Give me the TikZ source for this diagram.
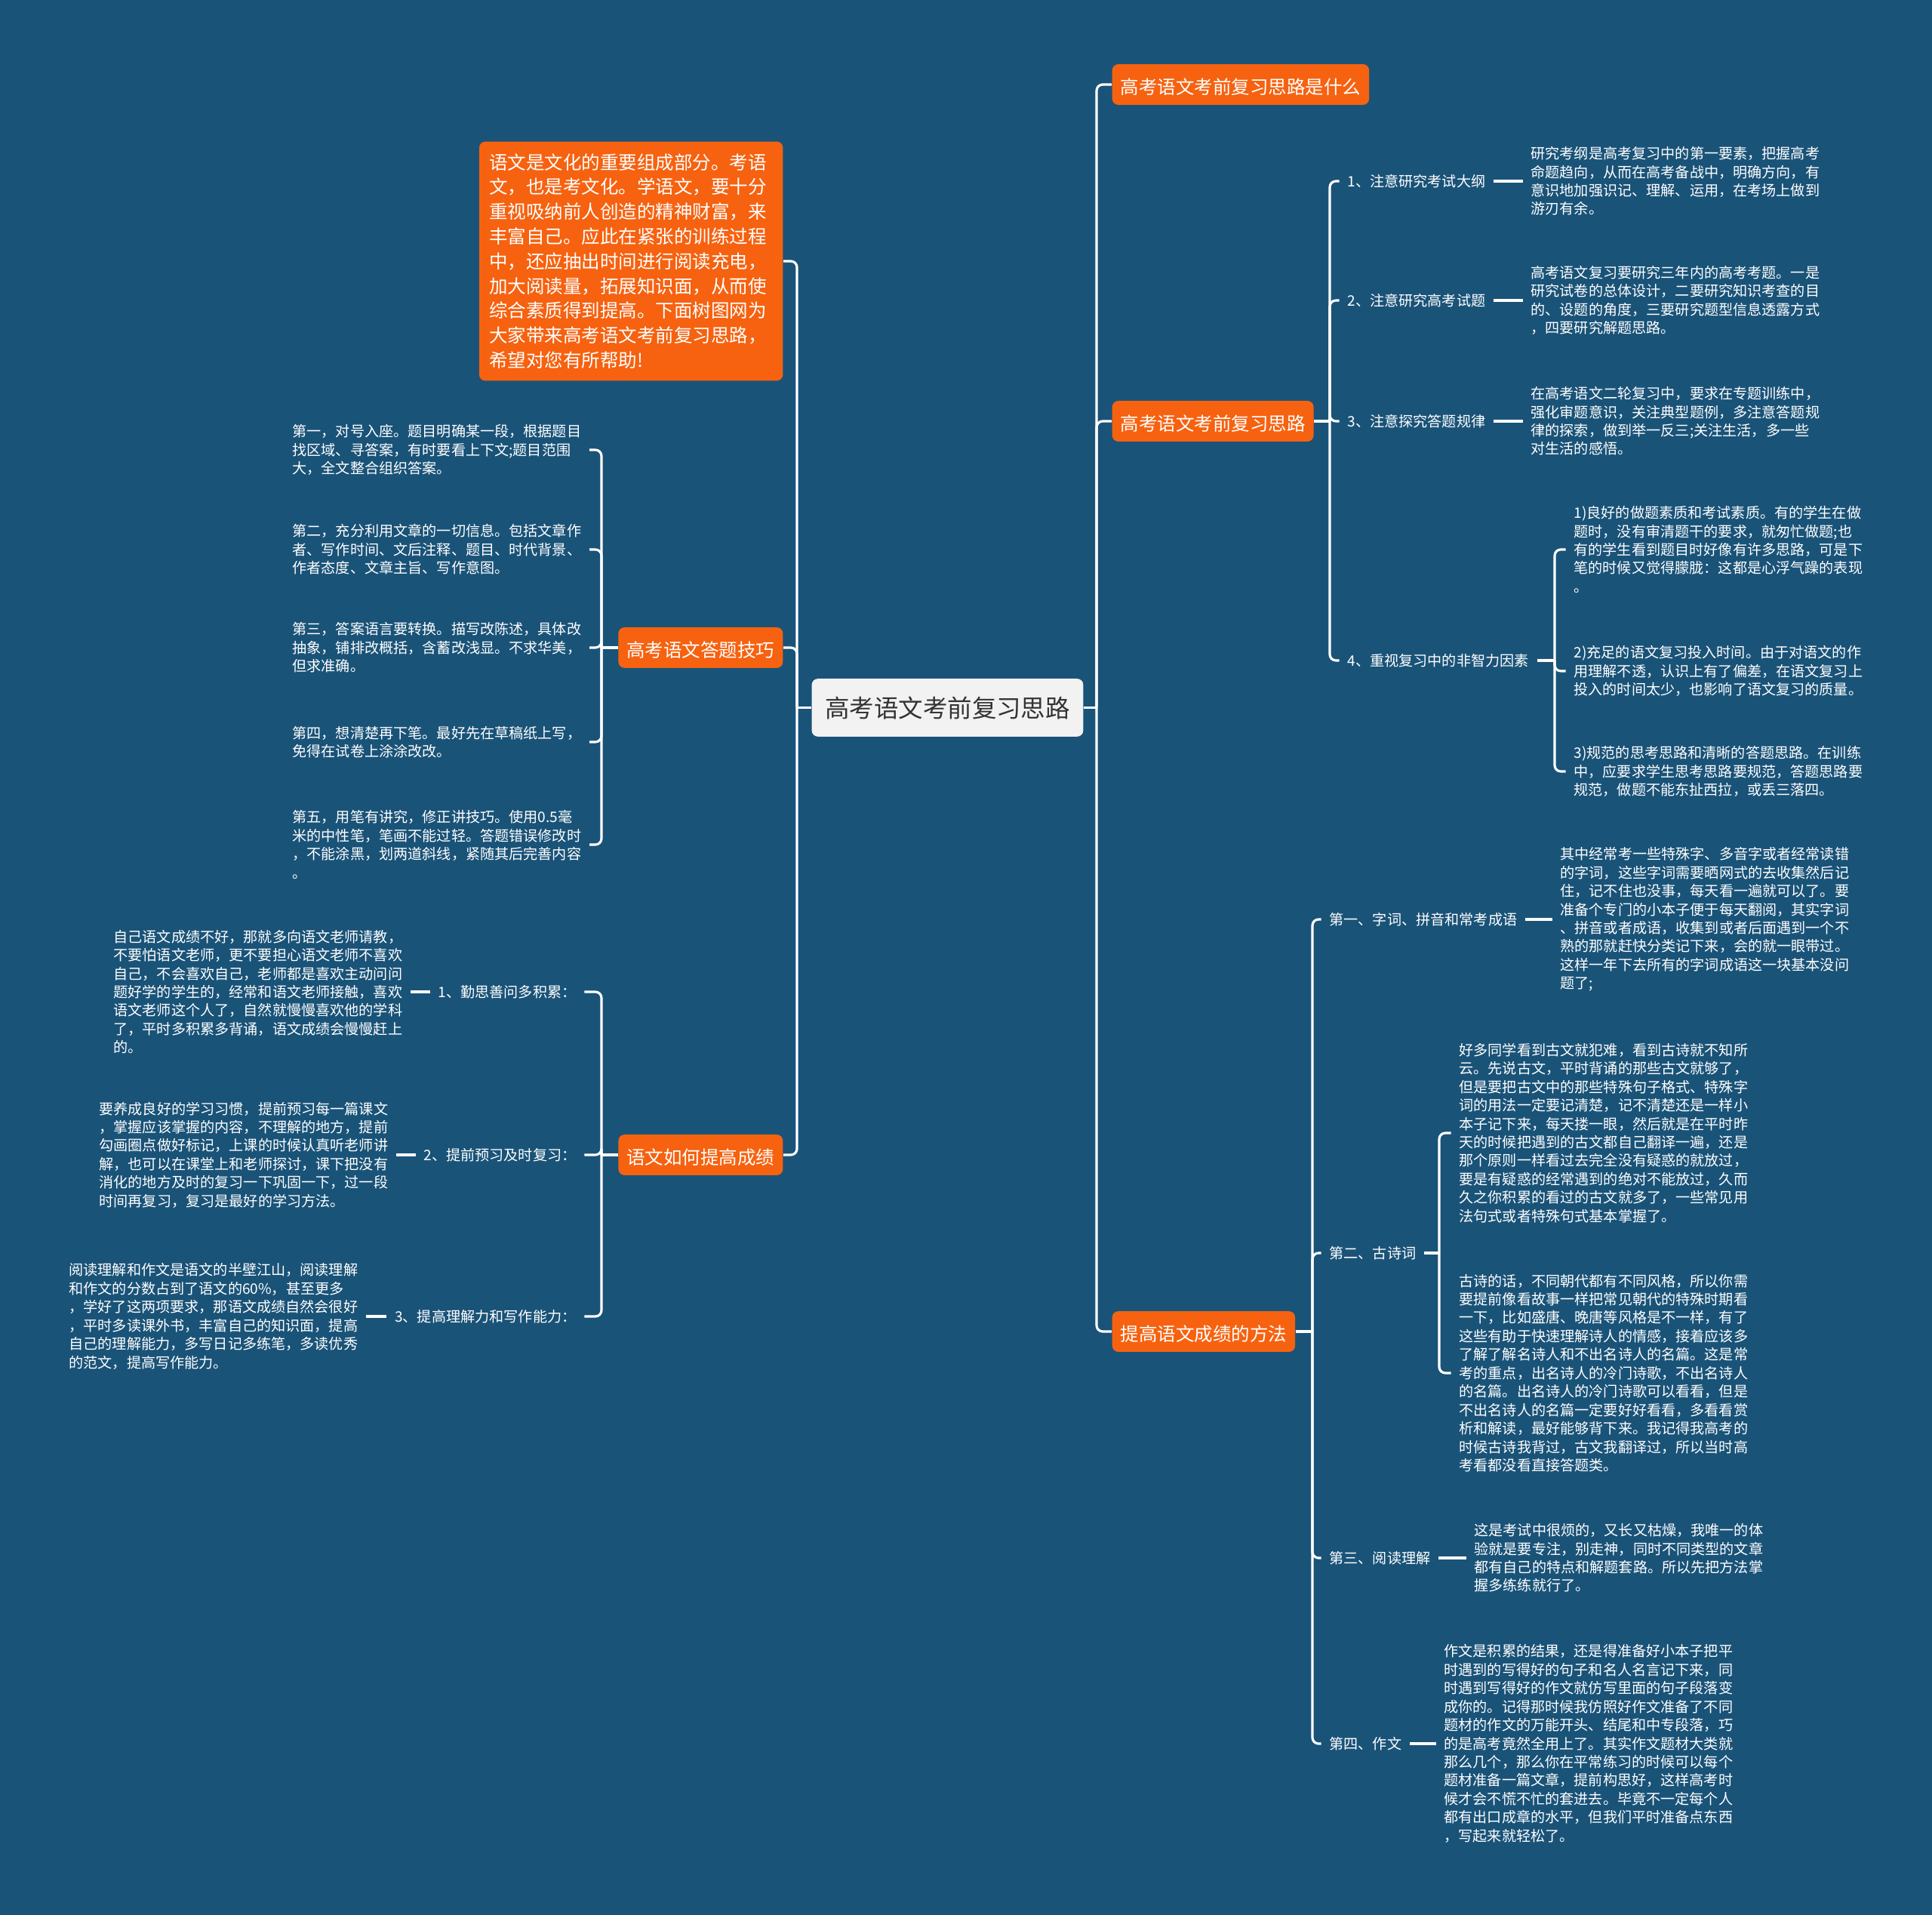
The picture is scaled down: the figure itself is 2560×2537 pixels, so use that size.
\documentclass[tikz,border=0pt]{standalone}
\usepackage{fontspec}
\setmainfont{Noto Sans CJK SC}
\definecolor{bgc}{HTML}{1A5378}
\definecolor{orc}{HTML}{F66210}
\definecolor{cfill}{HTML}{F2F2F2}
\definecolor{ctext}{HTML}{333333}
\newcommand{\fsmall}{\fontsize{5.44pt}{6.95pt}\selectfont}
\newcommand{\fmid}{\fontsize{6.97pt}{9.33pt}\selectfont}
\newcommand{\fbig}{\fontsize{9.24pt}{11pt}\selectfont}
\begin{document}
\begin{tikzpicture}[x=0.01cm,y=-0.01cm,
 conn/.style={draw=white,line width=0.9pt,rounded corners=2.3pt},
 toleaf/.style={conn,shorten >=1.8pt},
 gapline/.style={conn,shorten <=1.8pt,shorten >=1.8pt},
 orangebox/.style={fill=orc,rounded corners=2.3pt,text=white,font=\fmid,inner xsep=3.1pt,inner ysep=0pt,minimum height=15.3pt,text height=0.86em,text depth=0.14em},
 centerbox/.style={fill=cfill,rounded corners=2.3pt,text=ctext,font=\fbig,minimum width=102.3pt,minimum height=21.8pt,inner sep=0pt,text height=0.86em,text depth=0.14em},
 introbox/.style={fill=orc,rounded corners=2.3pt,text=white,font=\fmid,align=left,text width=107pt,inner xsep=3.7pt,inner ysep=4.5pt},
 lbl/.style={text=white,font=\fsmall,inner xsep=1.1pt,inner ysep=1pt},
 det/.style={text=white,font=\fsmall,align=left,inner sep=1.1pt},
]
\useasboundingbox (0,0) rectangle (2560,2537);
\fill[bgc] (0,0) rectangle (2560,2537);

% centre
\node[centerbox] (c) at (1255.5,937.5) {高考语文考前复习思路};

% ---------------- right side ----------------
\coordinate (rs) at (1453,937.5);
\node[orangebox,anchor=west] (r1) at (1473,112) {高考语文考前复习思路是什么};
\node[orangebox,anchor=west] (r2) at (1473,558) {高考语文考前复习思路};
\node[orangebox,anchor=west] (r3) at (1473,1764) {提高语文成绩的方法};
\draw[conn] (c.east) -- (rs);
\draw[conn] (rs) |- (r1.west);
\draw[conn] (rs) |- (r2.west);
\draw[conn] (rs) |- (r3.west);

% R2 children
\coordinate (r2s) at (1762,558);
\node[lbl,anchor=west] (r2a) at (1781,240) {1、注意研究考试大纲};
\node[lbl,anchor=west] (r2b) at (1781,398) {2、注意研究高考试题};
\node[lbl,anchor=west] (r2c) at (1781,558) {3、注意探究答题规律};
\node[lbl,anchor=west] (r2d) at (1781,875) {4、重视复习中的非智力因素};
\draw[conn] (r2.east) -- (r2s);
\draw[toleaf] (r2s) |- (r2a.west);
\draw[toleaf] (r2s) |- (r2b.west);
\draw[toleaf] (r2s) |- (r2c.west);
\draw[toleaf] (r2s) |- (r2d.west);

\node[det,anchor=west] (r2ad) at (2024,240) {研究考纲是高考复习中的第一要素，把握高考\\命题趋向，从而在高考备战中，明确方向，有\\意识地加强识记、理解、运用，在考场上做到\\游刃有余。};
\node[det,anchor=west] (r2bd) at (2024,398) {高考语文复习要研究三年内的高考考题。一是\\研究试卷的总体设计，二要研究知识考查的目\\的、设题的角度，三要研究题型信息透露方式\\，四要研究解题思路。};
\node[det,anchor=west] (r2cd) at (2024,558) {在高考语文二轮复习中，要求在专题训练中，\\强化审题意识，关注典型题例，多注意答题规\\律的探索，做到举一反三;关注生活，多一些\\对生活的感悟。};
\draw[gapline] (r2a.east) -- (r2ad.west);
\draw[gapline] (r2b.east) -- (r2bd.west);
\draw[gapline] (r2c.east) -- (r2cd.west);

\coordinate (r2ds) at (2060,875);
\node[det,anchor=west] (r2d1) at (2081,728) {1)良好的做题素质和考试素质。有的学生在做\\题时，没有审清题干的要求，就匆忙做题;也\\有的学生看到题目时好像有许多思路，可是下\\笔的时候又觉得朦胧：这都是心浮气躁的表现\\。};
\node[det,anchor=west] (r2d2) at (2081,889) {2)充足的语文复习投入时间。由于对语文的作\\用理解不透，认识上有了偏差，在语文复习上\\投入的时间太少，也影响了语文复习的质量。};
\node[det,anchor=west] (r2d3) at (2081,1022) {3)规范的思考思路和清晰的答题思路。在训练\\中，应要求学生思考思路要规范，答题思路要\\规范，做题不能东扯西拉，或丢三落四。};
\draw[conn,shorten <=1.8pt] (r2d.east) -- (r2ds);
\draw[toleaf] (r2ds) |- (r2d1.west);
\draw[toleaf] (r2ds) |- (r2d2.west);
\draw[toleaf] (r2ds) |- (r2d3.west);

% R3 children
\coordinate (r3s) at (1739,1764);
\node[lbl,anchor=west] (r3a) at (1757,1218) {第一、字词、拼音和常考成语};
\node[lbl,anchor=west] (r3b) at (1757,1660) {第二、古诗词};
\node[lbl,anchor=west] (r3c) at (1757,2064) {第三、阅读理解};
\node[lbl,anchor=west] (r3d) at (1757,2310) {第四、作文};
\draw[conn] (r3.east) -- (r3s);
\draw[toleaf] (r3s) |- (r3a.west);
\draw[toleaf] (r3s) |- (r3b.west);
\draw[toleaf] (r3s) |- (r3c.west);
\draw[toleaf] (r3s) |- (r3d.west);

\node[det,anchor=west] (r3ad) at (2063,1218) {其中经常考一些特殊字、多音字或者经常读错\\的字词，这些字词需要晒网式的去收集然后记\\住，记不住也没事，每天看一遍就可以了。要\\准备个专门的小本子便于每天翻阅，其实字词\\、拼音或者成语，收集到或者后面遇到一个不\\熟的那就赶快分类记下来，会的就一眼带过。\\这样一年下去所有的字词成语这一块基本没问\\题了;};
\draw[gapline] (r3a.east) -- (r3ad.west);

\coordinate (r3bs) at (1907,1660);
\node[det,anchor=west] (r3b1) at (1929,1501) {好多同学看到古文就犯难，看到古诗就不知所\\云。先说古文，平时背诵的那些古文就够了，\\但是要把古文中的那些特殊句子格式、特殊字\\词的用法一定要记清楚，记不清楚还是一样小\\本子记下来，每天搂一眼，然后就是在平时昨\\天的时候把遇到的古文都自己翻译一遍，还是\\那个原则一样看过去完全没有疑惑的就放过，\\要是有疑惑的经常遇到的绝对不能放过，久而\\久之你积累的看过的古文就多了，一些常见用\\法句式或者特殊句式基本掌握了。};
\node[det,anchor=west] (r3b2) at (1929,1819) {古诗的话，不同朝代都有不同风格，所以你需\\要提前像看故事一样把常见朝代的特殊时期看\\一下，比如盛唐、晚唐等风格是不一样，有了\\这些有助于快速理解诗人的情感，接着应该多\\了解了解名诗人和不出名诗人的名篇。这是常\\考的重点，出名诗人的冷门诗歌，不出名诗人\\的名篇。出名诗人的冷门诗歌可以看看，但是\\不出名诗人的名篇一定要好好看看，多看看赏\\析和解读，最好能够背下来。我记得我高考的\\时候古诗我背过，古文我翻译过，所以当时高\\考看都没看直接答题类。};
\draw[conn,shorten <=1.8pt] (r3b.east) -- (r3bs);
\draw[toleaf] (r3bs) |- (r3b1.west);
\draw[toleaf] (r3bs) |- (r3b2.west);

\node[det,anchor=west] (r3cd) at (1949,2064) {这是考试中很烦的，又长又枯燥，我唯一的体\\验就是要专注，别走神，同时不同类型的文章\\都有自己的特点和解题套路。所以先把方法掌\\握多练练就行了。};
\draw[gapline] (r3c.east) -- (r3cd.west);

\node[det,anchor=west] (r3dd) at (1909,2310) {作文是积累的结果，还是得准备好小本子把平\\时遇到的写得好的句子和名人名言记下来，同\\时遇到写得好的作文就仿写里面的句子段落变\\成你的。记得那时候我仿照好作文准备了不同\\题材的作文的万能开头、结尾和中专段落，巧\\的是高考竟然全用上了。其实作文题材大类就\\那么几个，那么你在平常练习的时候可以每个\\题材准备一篇文章，提前构思好，这样高考时\\候才会不慌不忙的套进去。毕竟不一定每个人\\都有出口成章的水平，但我们平时准备点东西\\，写起来就轻松了。};
\draw[gapline] (r3d.east) -- (r3dd.west);

% ---------------- left side ----------------
\coordinate (ls) at (1056,937.5);
\node[introbox,anchor=east] (l1) at (1038,346) {语文是文化的重要组成部分。考语\\文，也是考文化。学语文，要十分\\重视吸纳前人创造的精神财富，来\\丰富自己。应此在紧张的训练过程\\中，还应抽出时间进行阅读充电，\\加大阅读量，拓展知识面，从而使\\综合素质得到提高。下面树图网为\\大家带来高考语文考前复习思路，\\希望对您有所帮助!};
\node[orangebox,anchor=east] (l2) at (1038,858) {高考语文答题技巧};
\node[orangebox,anchor=east] (l3) at (1038,1530) {语文如何提高成绩};
\draw[conn] (c.west) -- (ls);
\draw[conn] (ls) |- (l1.east);
\draw[conn] (ls) |- (l2.east);
\draw[conn] (ls) |- (l3.east);

% L2 children
\coordinate (l2s) at (797,858);
\node[det,anchor=west] (l2a) at (383,596) {第一，对号入座。题目明确某一段，根据题目\\找区域、寻答案，有时要看上下文;题目范围\\大，全文整合组织答案。};
\node[det,anchor=west] (l2b) at (383,728) {第二，充分利用文章的一切信息。包括文章作\\者、写作时间、文后注释、题目、时代背景、\\作者态度、文章主旨、写作意图。};
\node[det,anchor=west] (l2c) at (383,858) {第三，答案语言要转换。描写改陈述，具体改\\抽象，铺排改概括，含蓄改浅显。不求华美，\\但求准确。};
\node[det,anchor=west] (l2d) at (383,983) {第四，想清楚再下笔。最好先在草稿纸上写，\\免得在试卷上涂涂改改。};
\node[det,anchor=west] (l2e) at (383,1119) {第五，用笔有讲究，修正讲技巧。使用0.5毫\\米的中性笔，笔画不能过轻。答题错误修改时\\，不能涂黑，划两道斜线，紧随其后完善内容\\。};
\draw[conn] (l2.west) -- (l2s);
\draw[toleaf] (l2s) |- (l2a.east);
\draw[toleaf] (l2s) |- (l2b.east);
\draw[toleaf] (l2s) |- (l2c.east);
\draw[toleaf] (l2s) |- (l2d.east);
\draw[toleaf] (l2s) |- (l2e.east);

% L3 children
\coordinate (l3s) at (797,1530);
\node[lbl,anchor=east] (l3a) at (768,1314) {1、勤思善问多积累：};
\node[lbl,anchor=east] (l3b) at (768,1530) {2、提前预习及时复习：};
\node[lbl,anchor=east] (l3c) at (768,1744) {3、提高理解力和写作能力：};
\draw[conn] (l3.west) -- (l3s);
\draw[toleaf] (l3s) |- (l3a.east);
\draw[toleaf] (l3s) |- (l3b.east);
\draw[toleaf] (l3s) |- (l3c.east);

\node[det,anchor=west] (l3ad) at (146,1314) {自己语文成绩不好，那就多向语文老师请教，\\不要怕语文老师，更不要担心语文老师不喜欢\\自己，不会喜欢自己，老师都是喜欢主动问问\\题好学的学生的，经常和语文老师接触，喜欢\\语文老师这个人了，自然就慢慢喜欢他的学科\\了，平时多积累多背诵，语文成绩会慢慢赶上\\的。};
\node[det,anchor=west] (l3bd) at (127,1530) {要养成良好的学习习惯，提前预习每一篇课文\\，掌握应该掌握的内容，不理解的地方，提前\\勾画圈点做好标记，上课的时候认真听老师讲\\解，也可以在课堂上和老师探讨，课下把没有\\消化的地方及时的复习一下巩固一下，过一段\\时间再复习，复习是最好的学习方法。};
\node[det,anchor=west] (l3cd) at (87,1744) {阅读理解和作文是语文的半壁江山，阅读理解\\和作文的分数占到了语文的60\%，甚至更多\\，学好了这两项要求，那语文成绩自然会很好\\，平时多读课外书，丰富自己的知识面，提高\\自己的理解能力，多写日记多练笔，多读优秀\\的范文，提高写作能力。};
\draw[gapline] (l3a.west) -- (l3ad.east);
\draw[gapline] (l3b.west) -- (l3bd.east);
\draw[gapline] (l3c.west) -- (l3cd.east);
\end{tikzpicture}
\end{document}
